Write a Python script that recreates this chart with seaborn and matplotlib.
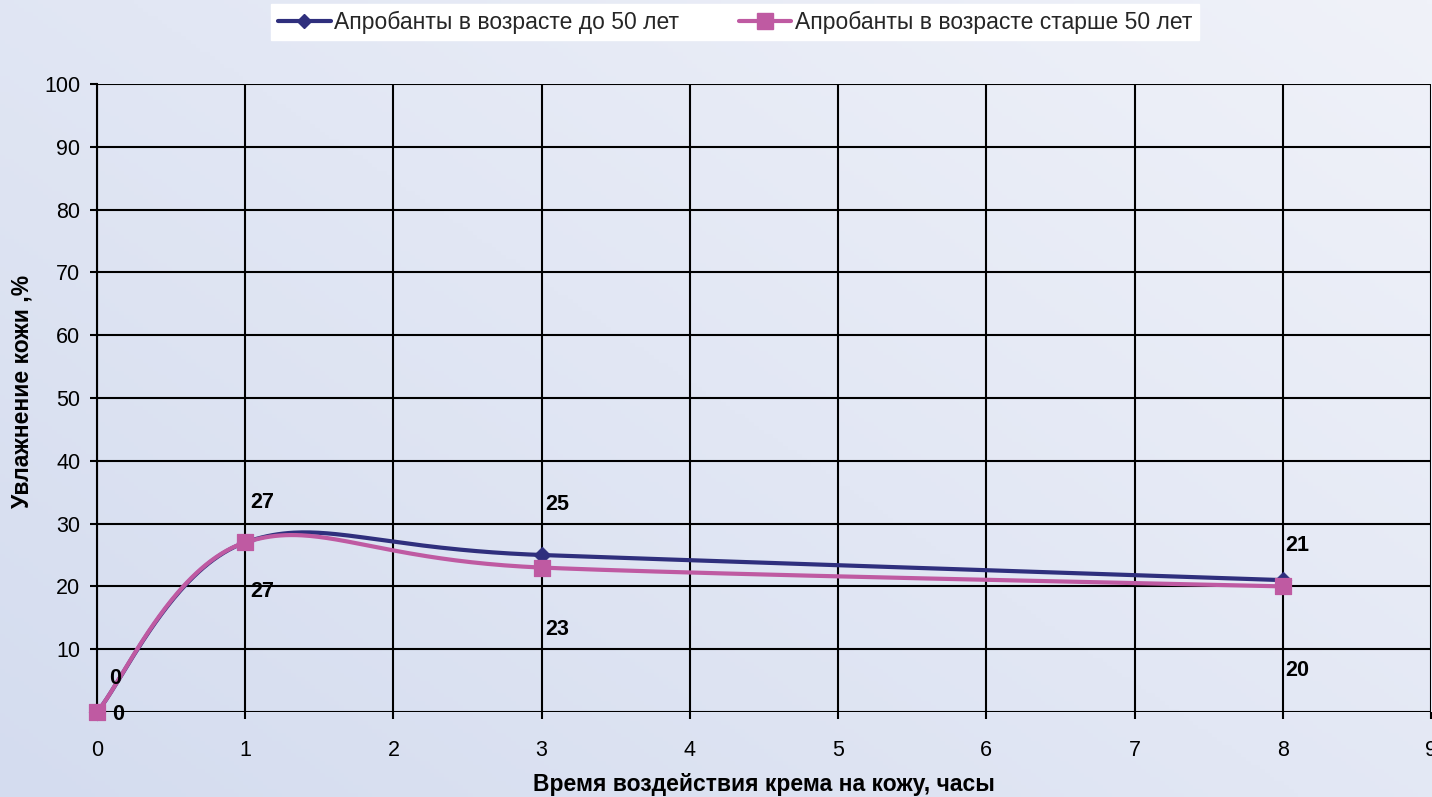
import numpy as np
import pandas as pd
import seaborn as sns
import matplotlib.pyplot as plt
from matplotlib.lines import Line2D

# данные
hours = [0, 1, 3, 8]
young = [0, 27, 25, 21]
old = [0, 27, 23, 20]
name_young = "Апробанты в возрасте до 50 лет"
name_old = "Апробанты в возрасте старше 50 лет"
yticks = [0, 10, 20, 30, 40, 50, 60, 70, 80, 90, 100]
ytick_labels = [""] + [str(v) for v in yticks[1:]]

c_young = "#2f2f7d"
c_old = "#bf5aa2"

# смещения подписей (в пикселях)
off_young = [(18, 34), (17, 40), (16, 50), (14, 35)]
off_old = [(21, -2), (17, -49), (16, -62), (14, -84)]


def smooth(xs, ys, n=80):
    # сглаживание как в Excel (безье по Катмулл-Рому)
    p = np.column_stack([xs, ys]).astype(float)
    p = np.vstack([p[0], p, p[-1]])
    out = []
    for i in range(1, len(p) - 2):
        p0, p1, p2, p3 = p[i - 1], p[i], p[i + 1], p[i + 2]
        b1 = p1 + (p2 - p0) / 6
        b2 = p2 - (p3 - p1) / 6
        t = np.linspace(0, 1, n)[:, None]
        seg = (1 - t) ** 3 * p1 + 3 * (1 - t) ** 2 * t * b1 + 3 * (1 - t) * t ** 2 * b2 + t ** 3 * p2
        out.append(seg)
    seg = np.vstack(out)
    return seg[:, 0], seg[:, 1]


sns.set_theme(style="white")
plt.rcParams['font.family'] = ['Liberation Sans', 'DejaVu Sans']

fig = plt.figure(figsize=(14.32, 7.97), dpi=100)

# фон с градиентом (светлее справа сверху)
bg = fig.add_axes([0, 0, 1, 1], zorder=-10)
gx, gy = np.meshgrid(np.linspace(0, 1, 300), np.linspace(0, 1, 200))
g = np.clip((gx * 0.55 + gy * 0.45), 0, 1)
c0 = np.array([0xd4, 0xdc, 0xef]) / 255
c1 = np.array([0xf0, 0xf2, 0xf9]) / 255
img = c0[None, None, :] * (1 - g[..., None]) + c1[None, None, :] * g[..., None]
bg.imshow(img, aspect="auto", extent=[0, 1, 0, 1], origin="lower")
bg.axis("off")

ax = fig.add_axes([97 / 1432, 1 - 712 / 797, 1334 / 1432, 628 / 797])
ax.set_facecolor("none")

sx, sy = smooth(hours, young)
sns.lineplot(x=sx, y=sy, sort=False, color=c_young, lw=3, ax=ax, zorder=3, clip_on=False)
sns.scatterplot(x=hours, y=young, marker="D", s=70, color=c_young, edgecolor=c_young, ax=ax,
                zorder=4, clip_on=False)
sx, sy = smooth(hours, old)
sns.lineplot(x=sx, y=sy, sort=False, color=c_old, lw=3, ax=ax, zorder=5, clip_on=False)
sns.scatterplot(x=hours, y=old, marker="s", s=125, color=c_old, edgecolor=c_old, ax=ax,
                zorder=6, clip_on=False)

for x, y, o in zip(hours, young, off_young):
    ax.annotate(str(y), (x, y), xytext=o, textcoords="offset pixels", ha="center", va="center",
                fontsize=15.5, fontweight="bold", color="black", zorder=7, annotation_clip=False)
for x, y, o in zip(hours, old, off_old):
    ax.annotate(str(y), (x, y), xytext=o, textcoords="offset pixels", ha="center", va="center",
                fontsize=15.5, fontweight="bold", color="black", zorder=7, annotation_clip=False)

ax.set_xlim(0, 9)
ax.set_ylim(0, 100)
ax.set_xticks(range(0, 10))
ax.set_yticks(yticks)
ax.set_yticklabels(ytick_labels)
ax.grid(True, color="black", lw=1.5)
ax.set_axisbelow(True)
for s in ax.spines.values():
    s.set_visible(False)
ax.spines["left"].set_visible(True)
ax.spines["left"].set_color("black")
ax.spines["left"].set_linewidth(1.5)
ax.tick_params(axis="both", which="major", direction="out", length=5, width=1.5, color="black",
               labelsize=15.5, labelcolor="black")
ax.tick_params(axis="y", pad=7)
ax.tick_params(axis="x", pad=15)
ax.tick_params(left=True, bottom=True)

ax.set_xlabel("Время воздействия крема на кожу, часы", fontsize=16.5, fontweight="bold", color="black")
ax.set_ylabel("Увлажнение кожи ,%", fontsize=16.5, fontweight="bold", color="black")
ax.xaxis.set_label_coords(0.5, -0.116)
ax.xaxis.label.set_va("center")
ax.yaxis.set_label_coords(-0.056, 0.51)
ax.yaxis.label.set_va("center")

handles = [
    Line2D([], [], color=c_young, lw=3, marker="D", markersize=7),
    Line2D([], [], color=c_old, lw=3, marker="s", markersize=11),
]
leg = fig.legend(handles, [name_young, name_old], loc="center", bbox_to_anchor=(735 / 1432, 1 - 22 / 797),
                 ncol=2, frameon=True, fancybox=False, fontsize=16.5, handlelength=2.3,
                 handletextpad=0.15, columnspacing=2.6, borderpad=0.3, borderaxespad=0)
leg.get_frame().set_facecolor("white")
leg.get_frame().set_edgecolor("white")
leg.get_frame().set_alpha(1)

fig.savefig("out.png", dpi=100)
